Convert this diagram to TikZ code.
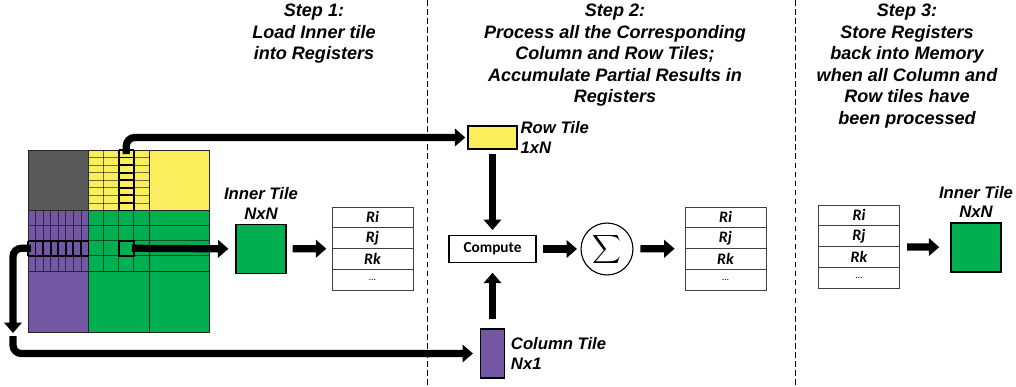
\documentclass[tikz,border=0pt]{standalone}
\usepackage{exscale}
\usepackage{fontspec}
\setmainfont{Liberation Sans}
\newfontfamily\calfont{Carlito}
\usetikzlibrary{arrows.meta,positioning,fit}
\definecolor{myell}{HTML}{FBEE5C}
\definecolor{mgreen}{HTML}{00B050}
\definecolor{mpurp}{HTML}{7356A4}
\definecolor{mgray}{HTML}{595959}
\tikzset{
  every node/.style={font=\bfseries\itshape},
  hdr/.style ={align=center, inner sep=0pt,
               font=\fontsize{13}{15.5}\selectfont\bfseries\itshape},
  tag/.style ={align=center, inner sep=1pt,
               font=\fontsize{12}{14}\selectfont\bfseries\itshape},
  tile/.style={draw=black, line width=0.9pt, inner sep=0pt},
  regc/.style={draw=black!75, line width=0.6pt, minimum width=58.3pt,
               minimum height=14.9pt, inner sep=0pt,
               font=\calfont\fontsize{11.5}{11.5}\selectfont\bfseries\itshape},
  opbox/.style={draw, line width=0.8pt, minimum width=62.6pt, minimum height=19.4pt,
               font=\calfont\fontsize{11}{11}\selectfont\bfseries},
  sumc/.style={circle, draw, line width=0.8pt, minimum size=37.4pt, inner sep=0pt},
  fat/.style ={line width=5.2pt, -{Triangle[length=7.5pt,width=12.5pt]}},
  sep/.style ={line width=0.7pt, dash pattern=on 4pt off 2.5pt},
  fine/.style={line width=0.55pt, draw=black, draw opacity=0.55},
  edge/.style={line width=0.7pt, draw=black!85},
  sel/.style ={line width=1.3pt, draw=black},
}
% register file: name, centre x, top y
\newcommand{\regfile}[3]{%
  \foreach \r [count=\k] in {Ri,Rj,Rk,{\mdseries\upshape\scriptsize\dots}}
    \node[regc] (#1-\k) at (#2, #3+20.75*\k-10.375) {\r};
  \node[fit=(#1-1)(#1-4), inner sep=0pt] (#1) {};
}

\begin{document}
\begin{tikzpicture}[x=0.72pt, y=-0.72pt]
\useasboundingbox (0,0) rectangle (1016,387);

% ---------------- tiled matrix ------------------------------------------------
\begin{scope}[shift={(28,150)}]
  \fill[mgray]  (0,0)       rectangle (60.5,60.5);
  \fill[myell]  (60.5,0)    rectangle (181.5,60.5);
  \fill[mpurp]  (0,60.5)    rectangle (60.5,182);
  \fill[mgreen] (60.5,60.5) rectangle (181.5,182);
  % yellow block: 4 x 8
  \foreach \i in {1,2,3} \draw[fine] (60.5+15.125*\i,0) -- ++(0,60.5);
  \foreach \j in {1,...,7} \draw[fine] (60.5,7.5625*\j) -- ++(60.5,0);
  % purple block: 8 x 4
  \foreach \i in {1,...,7} \draw[fine] (7.5625*\i,60.5) -- ++(0,60.5);
  \foreach \j in {1,2,3} \draw[fine] (0,60.5+15.125*\j) -- ++(60.5,0);
  % green block: 4 x 4, rows run on
  \foreach \i in {1,2,3} \draw[fine] (60.5+15.125*\i,60.5) -- ++(0,60.5);
  \foreach \j in {1,2,3} \draw[fine] (60.5,60.5+15.125*\j) -- ++(121,0);
  % block borders
  \draw[edge] (60.5,0) -- (60.5,182) (121,0) -- (121,182)
              (0,60.5) -- (181.5,60.5) (0,121) -- (181.5,121);
  \draw[edge] (0,0) rectangle (181.5,182);
  % selected row / column / inner cell
  \foreach \j in {0,...,8} \draw[sel] (90.75,7.5625*\j) -- ++(15.125,0);
  \draw[sel] (90.75,0) -- ++(0,60.5) (105.875,0) -- ++(0,60.5);
  \foreach \i in {0,...,8} \draw[sel] (7.5625*\i,90.75) -- ++(0,15.125);
  \draw[sel] (0,90.75) -- ++(60.5,0) (0,105.875) -- ++(60.5,0);
  \draw[sel] (90.75,90.75) rectangle ++(15.125,15.125);
  \coordinate (rowsel) at (98.3,0);
  \coordinate (colsel) at (0,98.3);
  \coordinate (insel)  at (104,98.3);
\end{scope}
\coordinate (drop) at (13,333);
\coordinate (land) at (13,336);

% ---------------- step headings -----------------------------------------------
\node[hdr, anchor=north] (step1) at (314,4) {Step 1:\\Load Inner tile\\into Registers};
\node[hdr, anchor=north] (step2) at (615,4)
  {Step 2:\\Process all the Corresponding\\Column and Row Tiles;\\Accumulate Partial Results in\\Registers};
\node[hdr, anchor=north] (step3) at (907,4)
  {Step 3:\\Store Registers\\back into Memory\\when all Column and\\Row tiles have\\been processed};

\draw[sep] (427,0) -- (427,387);
\draw[sep] (795,0) -- (795,387);

% ---------------- step 1 --------------------------------------------------------
\node[tile, fill=mgreen, minimum width=36pt, minimum height=35.3pt] (intile) at (261,249) {};
\node[tag, above=2pt of intile] (inlbl) {Inner Tile\\NxN};
\regfile{regA}{372.5}{207}

% ---------------- step 2 --------------------------------------------------------
\node[tile, fill=myell, minimum width=35.3pt, minimum height=16.6pt] (rowtile) at (492.5,137.5) {};
\node[tag, right=1pt of rowtile, align=left] (rowlbl) {Row Tile\\1xN};
\node[tile, fill=mpurp, minimum width=17.3pt, minimum height=35.3pt] (coltile) at (492.5,353.5) {};
\node[tag, right=3pt of coltile, align=left] (collbl) {Column Tile\\Nx1};
\node[opbox] (comp) at (492.5,249) {Compute};
\node[sumc] (acc) at (607,249) {\fontsize{15}{15}\selectfont$\displaystyle\sum$};
\regfile{regB}{725.5}{207}

% ---------------- step 3 --------------------------------------------------------
\regfile{regC}{859}{205}
\node[tile, fill=mgreen, minimum width=36pt, minimum height=35.3pt] (outtile) at (976,247.5) {};
\node[tag, above=2pt of outtile] (outlbl) {Inner Tile\\NxN};

% ---------------- arrows --------------------------------------------------------
\draw[fat, rounded corners=6pt, shorten >=1.5pt] ([yshift=-3pt]rowsel) |- (rowtile.west);
\draw[fat, rounded corners=6pt] ([xshift=2pt]colsel) -| (drop);
\draw[fat, rounded corners=6pt, shorten >=5pt] (land) |- (coltile.west);
\draw[fat, shorten >=5pt] (insel) -- (intile);
\draw[fat, shorten <=4.3pt, shorten >=3.6pt] (intile) -- (regA);
\draw[fat, shorten <=2.9pt, shorten >=3.6pt] (rowtile) -- (comp);
\draw[fat, shorten <=6.5pt, shorten >=7pt] (coltile) -- (comp);
\draw[fat, shorten <=4.3pt, shorten >=2.5pt] (comp) -- (acc);
\draw[fat, shorten <=5pt, shorten >=7pt] (acc) -- (regB);
\draw[fat, shorten <=5pt, shorten >=8pt] (regC) -- (outtile);

\end{tikzpicture}
\end{document}
